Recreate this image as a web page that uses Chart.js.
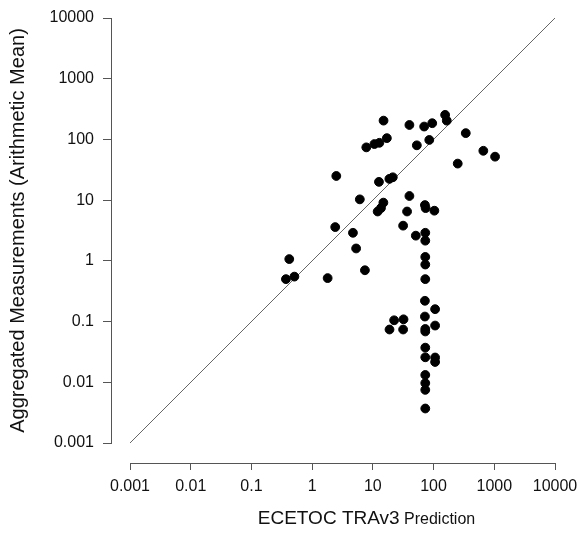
<!DOCTYPE html>
<html>
<head>
<meta charset="utf-8">
<script src="https://cdn.jsdelivr.net/npm/chart.js@4"></script>
<style>
  html, body { margin: 0; padding: 0; background: #fff; }
</style>
</head>
<body>
<canvas id="chart" width="579" height="535"></canvas>
<script>
// values (log-log scatter)
const predicted = [15, 40, 70, 95, 155, 165, 339, 660, 1030, 250,
  85, 53, 17, 12.8, 10.6, 7.8, 2.5, 12.6, 18.7, 21.3,
  6.1, 40, 14.9, 13.6, 12, 36.6, 72, 74, 103, 2.4,
  4.7, 31.5, 51, 73, 73, 5.3, 0.42, 73, 73, 7.4,
  0.37, 0.51, 1.8, 73, 72, 106, 72, 106, 73, 73,
  22.4, 32, 18.8, 31.5, 73, 73, 106, 106, 73, 73,
  73, 73];
const measured = [204, 173, 163, 185, 254, 204, 127, 65, 52, 40,
  98, 80, 105, 88, 84, 74, 25, 20, 22.4, 23.8,
  10.3, 11.7, 9.1, 7.4, 6.5, 6.5, 8.3, 7.4, 6.7, 3.6,
  2.9, 3.8, 2.6, 2.9, 2.15, 1.6, 1.07, 1.16, 0.87, 0.7,
  0.5, 0.55, 0.52, 0.5, 0.22, 0.16, 0.121, 0.086, 0.0755, 0.0687,
  0.105, 0.109, 0.074, 0.074, 0.0372, 0.0258, 0.0256, 0.0216, 0.0132, 0.0097,
  0.0075, 0.0037];
const tickValues = [0.001, 0.01, 0.1, 1, 10, 100, 1000, 10000];
const lineEnds = [0.001, 10000];   // 1:1 line

const yTitle = 'Aggregated Measurements (Arithmetic Mean)';
const xTitleMain = 'ECETOC TRAv3';
const xTitleTail = ' Prediction';

const FONT = '"Liberation Sans", Arial, sans-serif';
const AXIS = '#555';

let points = predicted.map((p, i) => ({ x: p, y: measured[i] }));
let diag = lineEnds.map(v => ({ x: v, y: v }));

// x title has two font sizes, so draw it by hand
const xTitlePlugin = {
  id: 'xTitle',
  afterDraw(chart) {
    const ctx = chart.ctx;
    const sx = chart.scales.x;
    ctx.save();
    ctx.font = '19px ' + FONT;
    const w1 = ctx.measureText(xTitleMain).width;
    ctx.font = '16px ' + FONT;
    const w2 = ctx.measureText(xTitleTail).width;
    let x0 = (sx.left + sx.right) / 2 + 24 - (w1 + w2) / 2;
    let yb = sx.bottom - 11;
    ctx.fillStyle = '#111';
    ctx.textBaseline = 'alphabetic';
    ctx.textAlign = 'left';
    ctx.font = '19px ' + FONT;
    ctx.fillText(xTitleMain, x0, yb);
    ctx.font = '16px ' + FONT;
    ctx.fillText(xTitleTail, x0 + w1, yb);
    ctx.restore();
  }
};

function powTicks(scale) {
  scale.ticks = tickValues.map(v => ({ value: v }));
}

// invisible scales used only to leave a gap between plot and axes
const spacer = (pos, size) => ({
  type: 'linear', position: pos, weight: 0, min: 0, max: 1,
  grid: { display: false }, border: { display: false }, ticks: { display: false },
  afterFit: s => { if (pos == 'left') s.width = size; else s.height = size; }
});

let ctx = document.getElementById('chart').getContext('2d');

let chart = new Chart(ctx, {
  type: 'scatter',
  data: {
    datasets: [{
      label: 'measurements',
      data: points,
      backgroundColor: '#000',
      borderColor: '#000',
      pointRadius: 4.4,
      pointHoverRadius: 4.4
    }, {
      type: 'line',
      label: '1:1',
      data: diag,
      borderColor: '#666',
      borderWidth: 1,
      pointRadius: 0,
      fill: false
    }]
  },
  plugins: [xTitlePlugin],
  options: {
    responsive: false,
    animation: false,
    devicePixelRatio: 1,
    layout: { padding: { left: 0, top: 18, right: 24, bottom: 0 } },
    plugins: {
      legend: { display: false },
      tooltip: { enabled: false }
    },
    scales: {
      x: {
        type: 'logarithmic', position: 'bottom', weight: 1,
        min: 0.001, max: 10000,
        afterBuildTicks: powTicks,
        afterFit: s => { s.height = 72; s.paddingLeft = 0; s.paddingRight = 0; },
        grid: { drawOnChartArea: false, tickLength: 7, color: AXIS },
        border: { display: true, color: AXIS, width: 1 },
        ticks: {
          autoSkip: false, maxRotation: 0, padding: 7,
          color: '#111', font: { family: FONT, size: 16 },
          callback: v => String(v)
        }
      },
      xs: spacer('bottom', 20),
      y: {
        type: 'logarithmic', position: 'left', weight: 1,
        min: 0.001, max: 10000,
        afterBuildTicks: powTicks,
        afterFit: s => { s.width = 111; s.paddingTop = 0; s.paddingBottom = 0; },
        grid: { drawOnChartArea: false, tickLength: 8, color: AXIS },
        border: { display: true, color: AXIS, width: 1 },
        ticks: {
          autoSkip: false, padding: 9,
          color: '#111', font: { family: FONT, size: 16 },
          callback: v => String(v)
        },
        title: {
          display: true, text: yTitle, color: '#111',
          font: { family: FONT, size: 20 },
          padding: { top: 6, bottom: 0 }
        }
      },
      ys: spacer('left', 19)
    }
  }
});
</script>
</body>
</html>
